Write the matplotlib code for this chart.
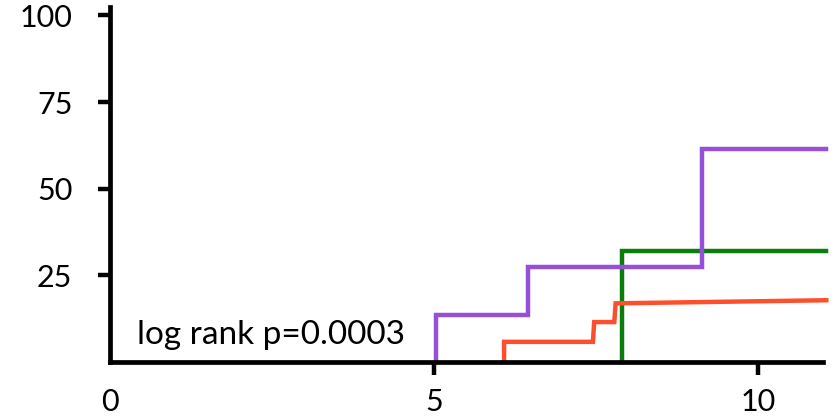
import matplotlib.pyplot as plt

plt.rcParams['font.family'] = ['Lato', 'DejaVu Sans']

# curve vertices (time, cumulative %)
purple_t = [5.03, 5.03, 6.45, 6.45, 9.14, 9.14, 11.05]
purple_y = [0, 13.6, 13.6, 27.4, 27.4, 61.4, 61.4]

green_t = [7.9, 7.9, 11.05]
green_y = [0, 32.0, 32.0]

red_t = [6.08, 6.08, 7.45, 7.47, 7.78, 7.8, 11.05]
red_y = [0, 5.8, 5.8, 11.5, 11.5, 16.9, 17.8]

x_ticks = [0, 5, 10]
y_ticks = [25, 50, 75, 100]
annotation = 'log rank p=0.0003'

fig = plt.figure(figsize=(8.39, 4.16), dpi=100)
ax = fig.add_axes([0.131, 0.130, 0.850, 0.853])

ax.plot(green_t, green_y, color='#0A7D0A', lw=3.2, solid_joinstyle='miter', clip_on=False)
ax.plot(red_t, red_y, color='#FF4E2B', lw=3.2, solid_joinstyle='miter', clip_on=False)
ax.plot(purple_t, purple_y, color='#9650D8', lw=3.2, solid_joinstyle='miter', clip_on=False)

ax.set_xlim(0, 11)
ax.set_ylim(0, 102.4)
ax.set_xticks(x_ticks)
ax.set_yticks(y_ticks)
ax.tick_params(axis='both', width=3.2, length=9, labelsize=22)
ax.tick_params(axis='y', pad=18)
ax.tick_params(axis='x', pad=10)
ax.xaxis.get_major_ticks()[0].tick1line.set_visible(False)

for s in ['top', 'right']:
    ax.spines[s].set_visible(False)
for s in ['left', 'bottom']:
    ax.spines[s].set_linewidth(3.4)
    ax.spines[s].set_zorder(5)

ax.text(0.42, 5.3, annotation, fontsize=24)

fig.savefig('out.png', dpi=100)
